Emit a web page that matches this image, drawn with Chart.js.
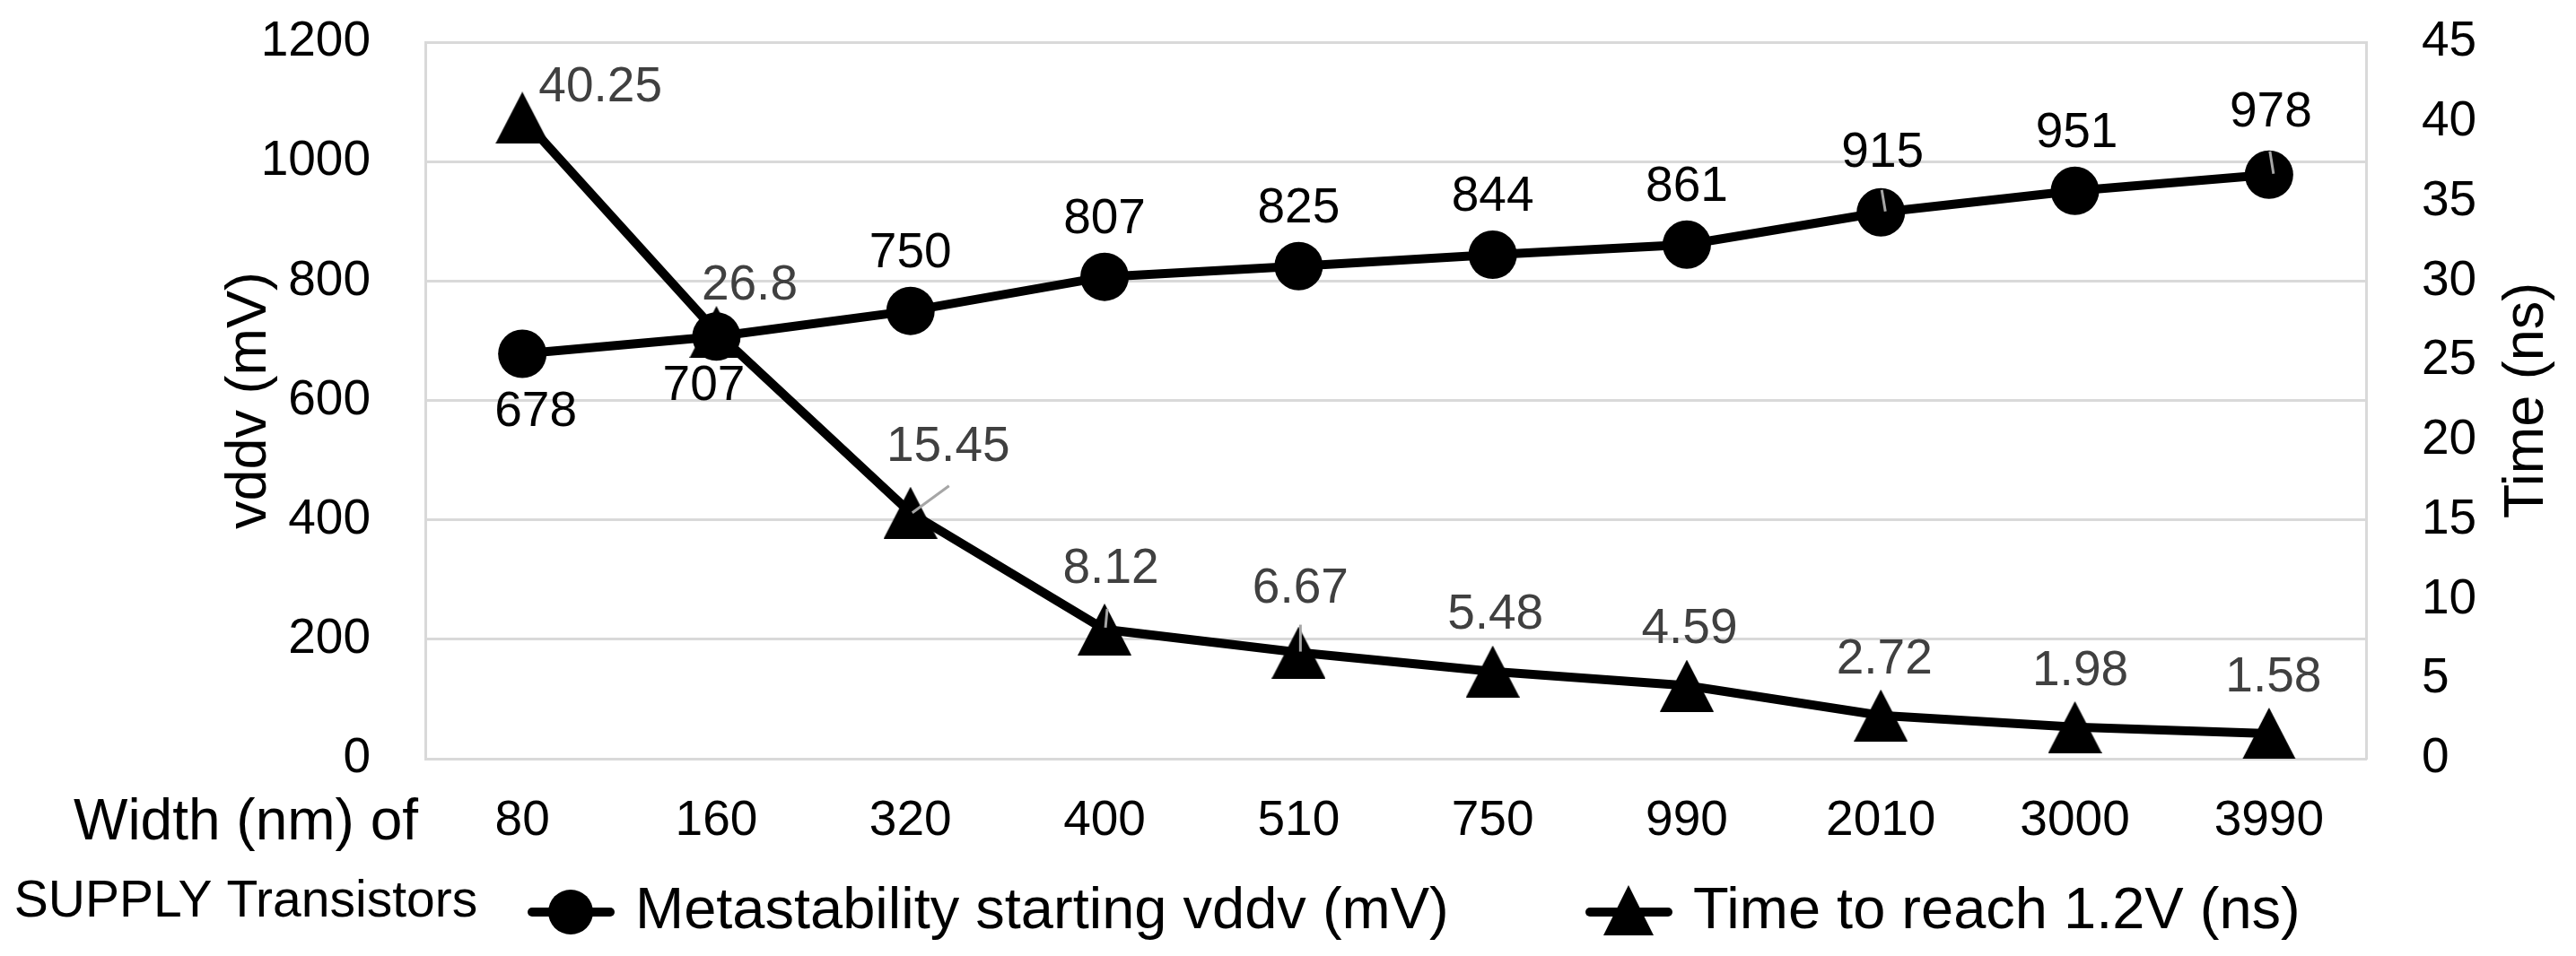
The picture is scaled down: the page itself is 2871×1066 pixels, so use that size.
<!DOCTYPE html>
<html>
<head>
<meta charset="utf-8">
<script src="https://cdn.jsdelivr.net/npm/chart.js@4"></script>
<style>
  html, body { margin: 0; padding: 0; background: #fff; }
  canvas { display: block; }
</style>
</head>
<body>
<canvas id="chart" width="2871" height="1066"></canvas>
<script>
// data
const widths = ['80', '160', '320', '400', '510', '750', '990', '2010', '3000', '3990'];
const vddvValues = [678, 707, 750, 807, 825, 844, 861, 915, 951, 978];
const timeValues = [40.25, 26.8, 15.45, 8.12, 6.67, 5.48, 4.59, 2.72, 1.98, 1.58];
const vddvTicks = [0, 200, 400, 600, 800, 1000, 1200];
const timeTicks = [0, 5, 10, 15, 20, 25, 30, 35, 40, 45];

// styling
const FONT = "'Liberation Sans', Arial, sans-serif";
const GRID = '#d9d9d9';
const vddvLabelShift = [[15, 65], [-14, 56], [0, -64], [0, -64], [0, -64], [0, -64], [0, -64], [2, -66], [2, -64], [2, -69]];
const timeLabelShift = [[87, -34], [37, -51], [42, -73], [7, -67], [2, -71], [3, -63], [3, -63], [4, -62], [6, -62], [5, -62]];
const leaders = [
  { ds: 1, i: 2, from: [43, -30], to: [2, 0] },
  { ds: 1, i: 3, from: [3, -23], to: [1, -2] },
  { ds: 1, i: 4, from: [2, -31], to: [2, -1] },
  { ds: 0, i: 7, from: [1, -25], to: [5, -1] },
  { ds: 0, i: 9, from: [1, -26], to: [5, -1] }
];
const legendStart = [588, 1767];
const legendY = 1017;

function triangleImage(w, h) {
  const c = document.createElement('canvas');
  c.width = w;
  c.height = h;
  const g = c.getContext('2d');
  g.fillStyle = '#000';
  g.beginPath();
  g.moveTo(w / 2, 0);
  g.lineTo(w, h);
  g.lineTo(0, h);
  g.closePath();
  g.fill();
  return c;
}

const triangle = triangleImage(60, 58);
const legendTriangle = triangleImage(56, 56);

// value labels and leader lines
const valueLabels = {
  id: 'valueLabels',
  afterDatasetsDraw(chart) {
    const c = chart.ctx;
    c.save();
    c.strokeStyle = '#a6a6a6';
    c.lineWidth = 3;
    leaders.forEach(l => {
      const pt = chart.getDatasetMeta(l.ds).data[l.i];
      c.beginPath();
      c.moveTo(pt.x + l.from[0], pt.y + l.from[1]);
      c.lineTo(pt.x + l.to[0], pt.y + l.to[1]);
      c.stroke();
    });
    c.font = '55px ' + FONT;
    c.textAlign = 'center';
    c.textBaseline = 'middle';
    chart.data.datasets.forEach((ds, d) => {
      const shift = d === 0 ? vddvLabelShift : timeLabelShift;
      c.fillStyle = d === 0 ? '#000000' : '#404040';
      chart.getDatasetMeta(d).data.forEach((pt, i) => {
        c.fillText(String(ds.data[i]), pt.x + shift[i][0], pt.y + shift[i][1]);
      });
    });
    c.restore();
  }
};

// right title, x title and legend
const extraText = {
  id: 'extraText',
  afterDraw(chart) {
    const c = chart.ctx;
    const area = chart.chartArea;
    c.save();
    c.fillStyle = '#000';
    c.textBaseline = 'middle';

    c.save();
    c.translate(2817, (area.top + area.bottom) / 2);
    c.rotate(-Math.PI / 2);
    c.textAlign = 'center';
    c.font = '63px ' + FONT;
    c.fillText('Time (ns)', 0, 0);
    c.restore();

    c.textAlign = 'center';
    c.font = '64px ' + FONT;
    c.fillText('Width (nm) of', 274, 918);
    c.font = '57px ' + FONT;
    c.fillText('SUPPLY Transistors', 274, 1006);

    chart.data.datasets.forEach((ds, d) => {
      const x0 = legendStart[d];
      c.strokeStyle = '#000';
      c.lineWidth = 10;
      c.lineCap = 'round';
      c.beginPath();
      c.moveTo(x0 + 5, legendY);
      c.lineTo(x0 + 92, legendY);
      c.stroke();
      if (d === 0) {
        c.beginPath();
        c.arc(x0 + 48, legendY, 25, 0, Math.PI * 2);
        c.fill();
      } else {
        c.drawImage(legendTriangle, x0 + 48 - 28, legendY - 30);
      }
      c.textAlign = 'left';
      c.font = '65px ' + FONT;
      c.fillText(ds.label, x0 + 120, legendY);
    });
    c.restore();
  }
};

const ctx = document.getElementById('chart');

new Chart(ctx, {
  type: 'line',
  data: {
    labels: widths,
    datasets: [{
      label: 'Metastability starting vddv (mV)',
      data: vddvValues,
      yAxisID: 'y',
      borderColor: '#000',
      backgroundColor: '#000',
      borderWidth: 10,
      pointStyle: 'circle',
      pointRadius: 27,
      pointBorderWidth: 0,
      pointBackgroundColor: '#000',
      tension: 0
    }, {
      label: 'Time to reach 1.2V (ns)',
      data: timeValues,
      yAxisID: 'y1',
      borderColor: '#000',
      backgroundColor: '#000',
      borderWidth: 10,
      pointStyle: triangle,
      pointRadius: 30,
      tension: 0
    }]
  },
  options: {
    responsive: false,
    animation: false,
    devicePixelRatio: 1,
    layout: { padding: { top: 47, left: 0, right: 0, bottom: 0 } },
    plugins: {
      legend: { display: false },
      tooltip: { enabled: false }
    },
    scales: {
      x: {
        type: 'category',
        offset: true,
        afterFit: s => { s.height = 220; },
        grid: { display: false, drawTicks: false },
        border: { display: true, color: GRID, width: 3 },
        ticks: { color: '#000', font: { family: FONT, size: 55 }, padding: 37, maxRotation: 0, autoSkip: false }
      },
      y: {
        position: 'left',
        min: vddvTicks[0],
        max: vddvTicks[vddvTicks.length - 1],
        afterBuildTicks: s => { s.ticks = vddvTicks.map(v => ({ value: v })); },
        afterFit: s => { s.width = 474; s.paddingTop = 0; s.paddingBottom = 0; },
        grid: { color: GRID, lineWidth: 3, drawTicks: false },
        border: { display: true, color: GRID, width: 3 },
        ticks: { color: '#000', font: { family: FONT, size: 55 }, padding: 61, callback: v => String(v) },
        title: {
          display: true,
          text: 'vddv (mV)',
          color: '#000',
          font: { family: FONT, size: 63 },
          padding: { top: 241, bottom: 0 }
        }
      },
      y1: {
        position: 'right',
        min: timeTicks[0],
        max: timeTicks[timeTicks.length - 1],
        afterBuildTicks: s => { s.ticks = timeTicks.map(v => ({ value: v })); },
        afterFit: s => { s.width = 234; s.paddingTop = 0; s.paddingBottom = 0; },
        grid: { display: false, drawTicks: false },
        border: { display: true, color: GRID, width: 3 },
        ticks: { color: '#000', font: { family: FONT, size: 55 }, padding: 62, callback: v => String(v) }
      }
    }
  },
  plugins: [valueLabels, extraText]
});
</script>
</body>
</html>
